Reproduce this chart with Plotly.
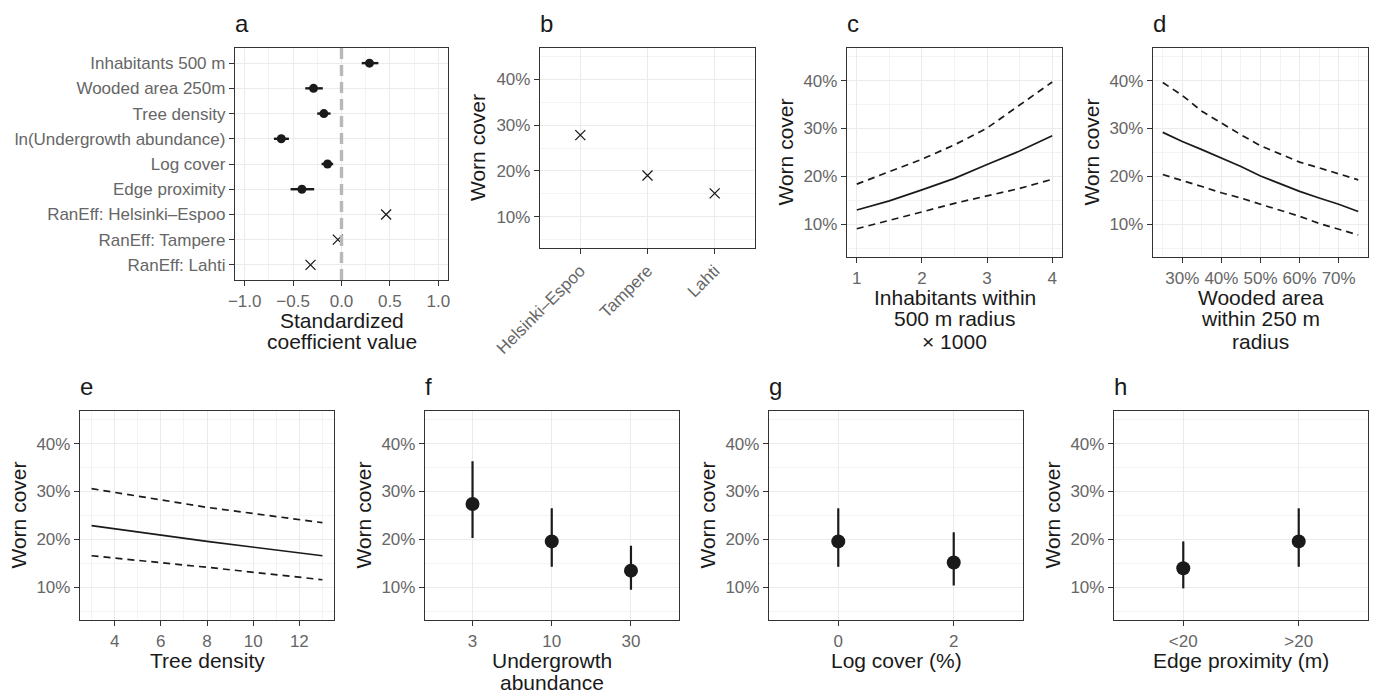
import plotly.graph_objects as go

# ---------------- data ----------------
# panel a: standardized coefficients
coef_labels = ["Inhabitants 500 m", "Wooded area 250m", "Tree density",
               "ln(Undergrowth abundance)", "Log cover", "Edge proximity"]
coef_est = [0.289, -0.289, -0.182, -0.622, -0.144, -0.409]
coef_lo = [0.209, -0.374, -0.251, -0.698, -0.206, -0.526]
coef_hi = [0.381, -0.193, -0.113, -0.543, -0.086, -0.282]
ranef_labels = ["RanEff: Helsinki\u2013Espoo", "RanEff: Tampere", "RanEff: Lahti"]
ranef_est = [0.461, -0.038, -0.320]

# panel b: city random effects
cities = ["Helsinki\u2013Espoo", "Tampere", "Lahti"]
city_cover = [0.278, 0.190, 0.151]

# panel c: inhabitants (x1000)
inh_x = [1, 1.5, 2, 2.5, 3, 3.5, 4]
inh_fit = [0.130, 0.149, 0.172, 0.196, 0.225, 0.253, 0.285]
inh_hi = [0.184, 0.210, 0.236, 0.266, 0.301, 0.349, 0.397]
inh_lo = [0.091, 0.108, 0.126, 0.144, 0.159, 0.175, 0.194]

# panel d: wooded area
wood_x = [0.25, 0.30, 0.35, 0.40, 0.45, 0.50, 0.55, 0.60, 0.65, 0.70, 0.75]
wood_fit = [0.292, 0.273, 0.256, 0.238, 0.221, 0.201, 0.185, 0.169, 0.155, 0.142, 0.127]
wood_hi = [0.396, 0.369, 0.336, 0.311, 0.287, 0.264, 0.247, 0.230, 0.218, 0.205, 0.193]
wood_lo = [0.204, 0.192, 0.179, 0.166, 0.155, 0.142, 0.130, 0.117, 0.102, 0.090, 0.078]

# panel e: tree density
tree_x = [3, 8, 13]
tree_fit = [0.229, 0.196, 0.166]
tree_hi = [0.306, 0.267, 0.235]
tree_lo = [0.166, 0.142, 0.116]

# panel f: undergrowth abundance
ug_levels = ["3", "10", "30"]
ug_fit = [0.274, 0.196, 0.135]
ug_lo = [0.203, 0.143, 0.095]
ug_hi = [0.363, 0.265, 0.187]

# panel g: log cover
log_levels = ["0", "2"]
log_fit = [0.196, 0.152]
log_lo = [0.143, 0.104]
log_hi = [0.265, 0.215]

# panel h: edge proximity
edge_levels = ["<20", ">20"]
edge_fit = [0.140, 0.196]
edge_lo = [0.098, 0.143]
edge_hi = [0.196, 0.265]

pct_ticks = [0.1, 0.2, 0.3, 0.4]
pct_minor = [0.05, 0.15, 0.25, 0.35, 0.45]

# ---------------- layout helpers ----------------
W, H = 1376, 693
FONT = "Liberation Sans, Arial, Helvetica, sans-serif"
INK = "#1a1a1a"
TICKC = "#666666"
FRAME = "#333333"
GRID = "#ebebeb"
GRIDMIN = "#f3f3f3"
TICK_SIZE = 17
TITLE_SIZE = 21

# panel boxes in pixels: (left, top, right, bottom)
boxes = {
    1: (235, 48, 448, 280),
    2: (540, 48, 755, 248),
    3: (847, 48, 1062, 257),
    4: (1153, 48, 1368, 257),
    5: (80, 411, 334, 620),
    6: (425, 411, 678.5, 620),
    7: (769, 411, 1023, 620),
    8: (1114, 411, 1368, 620),
}
panel_letters = {1: "a", 2: "b", 3: "c", 4: "d", 5: "e", 6: "f", 7: "g", 8: "h"}

# x-axis titles: list of (line text, centre y in px)
x_titles = {
    1: [("Standardized", 320), ("coefficient value", 342)],
    3: [("Inhabitants within", 297), ("500 m radius", 319), ("\u00d7 1000", 341)],
    4: [("Wooded area", 297), ("within 250 m", 319), ("radius", 341)],
    5: [("Tree density", 660)],
    6: [("Undergrowth", 660), ("abundance", 682)],
    7: [("Log cover (%)", 660)],
    8: [("Edge proximity (m)", 660)],
}

fig = go.Figure()


def ax_name(kind, i):
    return f"{kind}{'' if i == 1 else i}"


def base_axis(i, kind):
    l, t, r, b = boxes[i]
    if kind == "x":
        dom = [l / W, r / W]
    else:
        dom = [1 - b / H, 1 - t / H]
    other = "y" if kind == "x" else "x"
    return dict(
        domain=dom,
        anchor=ax_name(other, i),
        automargin=False,
        showline=True, mirror=True, linecolor=FRAME, linewidth=1.3,
        ticks="outside", ticklen=5, tickwidth=1.2, tickcolor=FRAME,
        showgrid=True, gridcolor=GRID, gridwidth=1.3,
        zeroline=False,
        tickfont=dict(family=FONT, size=TICK_SIZE, color=TICKC),
    )


def pct_yaxis(i):
    d = base_axis(i, "y")
    d.update(range=[0.032, 0.468], tickvals=pct_ticks, tickformat=".0%",
             minor=dict(tickvals=pct_minor, showgrid=True, gridcolor=GRIDMIN,
                        gridwidth=0.8, ticks=""))
    return d


def tr(i):
    return dict(xaxis=ax_name("x", i), yaxis=ax_name("y", i))


axes = {}

# ---- panel a ----
all_labels = coef_labels + ranef_labels
fig.add_trace(go.Scatter(
    x=coef_est, y=coef_labels, mode="markers",
    marker=dict(color=INK, size=9),
    error_x=dict(type="data", symmetric=False,
                 array=[h - e for h, e in zip(coef_hi, coef_est)],
                 arrayminus=[e - lo for e, lo in zip(coef_est, coef_lo)],
                 width=0, thickness=2.4, color=INK),
    showlegend=False, **tr(1)))
fig.add_trace(go.Scatter(
    x=ranef_est, y=ranef_labels, mode="markers",
    marker=dict(color=INK, size=10, symbol="x-thin", line=dict(width=1.3, color=INK)),
    showlegend=False, **tr(1)))
xa = base_axis(1, "x")
xa.update(range=[-1.1, 1.1], tickvals=[-1, -0.5, 0, 0.5, 1], tickformat=".1f",
          minor=dict(tickvals=[-0.75, -0.25, 0.25, 0.75], showgrid=True,
                     gridcolor=GRIDMIN, gridwidth=0.8, ticks=""))
ya = base_axis(1, "y")
ya.update(type="category", categoryorder="array", categoryarray=all_labels,
          range=[8.6, -0.6])
axes["xaxis"] = xa
axes["yaxis"] = ya

# ---- panel b ----
fig.add_trace(go.Scatter(
    x=cities, y=city_cover, mode="markers",
    marker=dict(color=INK, size=10, symbol="x-thin", line=dict(width=1.3, color=INK)),
    showlegend=False, **tr(2)))
xb = base_axis(2, "x")
xb.update(type="category", range=[-0.6, 2.6], tickangle=-45)
axes["xaxis2"] = xb
axes["yaxis2"] = pct_yaxis(2)


# ---- line panels ----
def add_curves(i, xs, fit, lo, hi):
    for band in (hi, lo):
        fig.add_trace(go.Scatter(x=xs, y=band, mode="lines",
                                 line=dict(color=INK, width=1.7, dash="7px,5px"),
                                 showlegend=False, **tr(i)))
    fig.add_trace(go.Scatter(x=xs, y=fit, mode="lines",
                             line=dict(color=INK, width=1.7),
                             showlegend=False, **tr(i)))


add_curves(3, inh_x, inh_fit, inh_lo, inh_hi)
xc = base_axis(3, "x")
xc.update(range=[0.85, 4.15], tickvals=[1, 2, 3, 4],
          minor=dict(tickvals=[1.5, 2.5, 3.5], showgrid=True, gridcolor=GRIDMIN,
                     gridwidth=0.8, ticks=""))
axes["xaxis3"] = xc
axes["yaxis3"] = pct_yaxis(3)

add_curves(4, wood_x, wood_fit, wood_lo, wood_hi)
xd = base_axis(4, "x")
xd.update(range=[0.225, 0.775], tickvals=[0.3, 0.4, 0.5, 0.6, 0.7], tickformat=".0%",
          minor=dict(tickvals=[0.25, 0.35, 0.45, 0.55, 0.65, 0.75], showgrid=True,
                     gridcolor=GRIDMIN, gridwidth=0.8, ticks=""))
axes["xaxis4"] = xd
axes["yaxis4"] = pct_yaxis(4)

add_curves(5, tree_x, tree_fit, tree_lo, tree_hi)
xe = base_axis(5, "x")
xe.update(range=[2.5, 13.5], tickvals=[4, 6, 8, 10, 12],
          minor=dict(tickvals=[3, 5, 7, 9, 11, 13], showgrid=True, gridcolor=GRIDMIN,
                     gridwidth=0.8, ticks=""))
axes["xaxis5"] = xe
axes["yaxis5"] = pct_yaxis(5)


# ---- point + interval panels ----
def add_points(i, levels, fit, lo, hi):
    fig.add_trace(go.Scatter(
        x=levels, y=fit, mode="markers",
        marker=dict(color=INK, size=14),
        error_y=dict(type="data", symmetric=False,
                     array=[h - f for h, f in zip(hi, fit)],
                     arrayminus=[f - l for f, l in zip(fit, lo)],
                     width=0, thickness=2.2, color=INK),
        showlegend=False, **tr(i)))


add_points(6, ug_levels, ug_fit, ug_lo, ug_hi)
xf = base_axis(6, "x")
xf.update(type="category", range=[-0.6, 2.6])
axes["xaxis6"] = xf
axes["yaxis6"] = pct_yaxis(6)

add_points(7, log_levels, log_fit, log_lo, log_hi)
xg = base_axis(7, "x")
xg.update(type="category", range=[-0.6, 1.6])
axes["xaxis7"] = xg
axes["yaxis7"] = pct_yaxis(7)

add_points(8, edge_levels, edge_fit, edge_lo, edge_hi)
xh = base_axis(8, "x")
xh.update(type="category", range=[-0.6, 1.6])
axes["xaxis8"] = xh
axes["yaxis8"] = pct_yaxis(8)

# zero reference line in panel a
shapes = [dict(type="line", xref="x", yref="y domain", x0=0, x1=0, y0=0, y1=1,
               line=dict(color="#b8b8b8", width=3.4, dash="11px,6px"), layer="above")]

annotations = []
for i, letter in panel_letters.items():
    l, t, r, b = boxes[i]
    annotations.append(dict(text=letter, xref="paper", yref="paper",
                            x=(l - 2) / W, y=1 - (t - 9) / H, xanchor="left", yanchor="bottom",
                            showarrow=False,
                            font=dict(family=FONT, size=24, color=INK)))
    if i != 1:
        annotations.append(dict(text="Worn cover", xref="paper", yref="paper",
                                x=(l - 62) / W, y=1 - ((t + b) / 2) / H,
                                xanchor="center", yanchor="middle", textangle=-90,
                                showarrow=False,
                                font=dict(family=FONT, size=TITLE_SIZE, color=INK)))
for i, lines in x_titles.items():
    l, t, r, b = boxes[i]
    for text, ypx in lines:
        annotations.append(dict(text=text, xref="paper", yref="paper",
                                x=((l + r) / 2) / W, y=1 - ypx / H,
                                xanchor="center", yanchor="middle", showarrow=False,
                                font=dict(family=FONT, size=TITLE_SIZE, color=INK)))

fig.update_layout(
    width=W, height=H,
    margin=dict(l=0, r=0, t=0, b=0),
    paper_bgcolor="white", plot_bgcolor="white",
    font=dict(family=FONT, color=INK),
    hovermode=False,
    shapes=shapes, annotations=annotations,
    **axes,
)

fig.write_html("out.html",
               config={"displayModeBar": False},
               post_script="document.body.style.margin='0';document.body.style.overflow='hidden';")
